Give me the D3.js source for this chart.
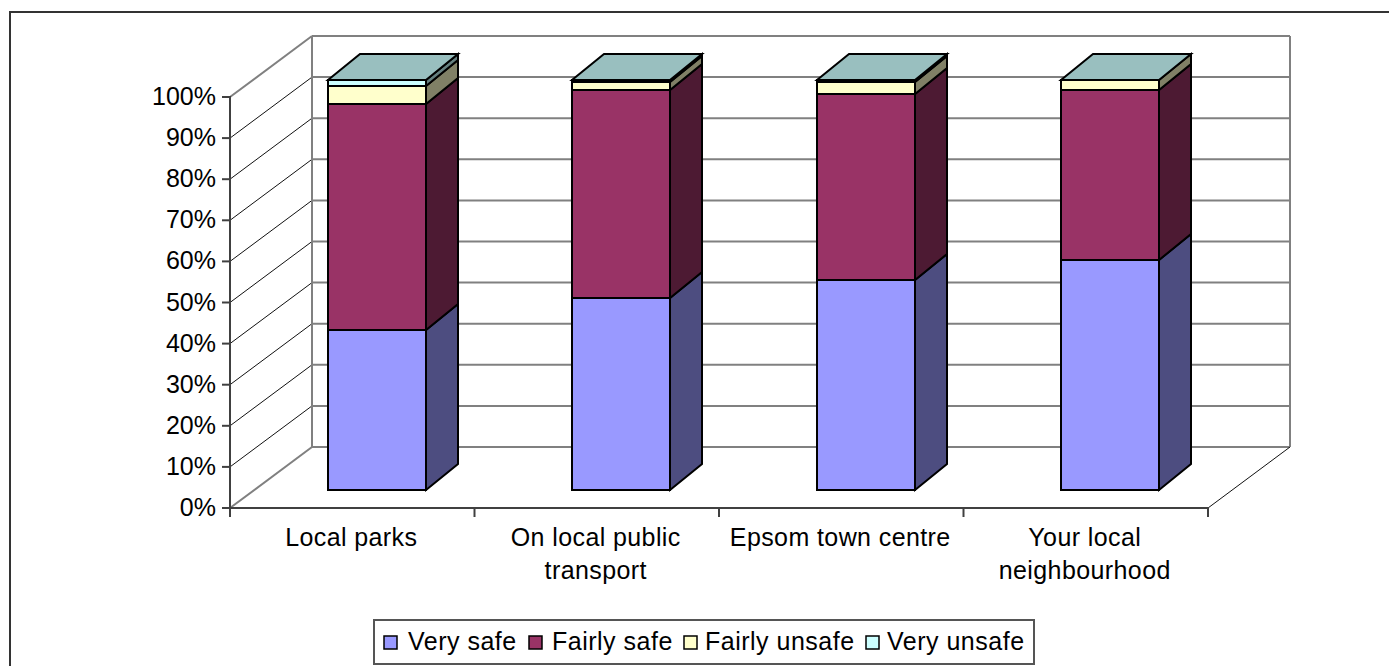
<!DOCTYPE html>
<html>
<head>
<meta charset="utf-8">
<script src="https://cdn.jsdelivr.net/npm/d3@7"></script>
<style>
  html, body { margin: 0; padding: 0; background: #fff; }
  svg { display: block; }
  text { font-family: "Liberation Sans", Arial, sans-serif; fill: #000; }
</style>
</head>
<body>
<div id="chart"></div>
<script>
var categories = ["Local parks", "On local public transport", "Epsom town centre", "Your local neighbourhood"];
var category_lines = [["Local parks"], ["On local public", "transport"], ["Epsom town centre"], ["Your local", "neighbourhood"]];
var series_names = ["Very safe", "Fairly safe", "Fairly unsafe", "Very unsafe"];
var very_safe     = [39.0, 46.8, 51.2, 56.0];
var fairly_safe   = [55.1, 50.8, 45.4, 41.5];
var fairly_unsafe = [4.4, 2.0, 2.9, 2.5];
var very_unsafe   = [1.5, 0.4, 0.5, 0.0];
var y_ticks = [0, 10, 20, 30, 40, 50, 60, 70, 80, 90, 100];

var front_colors = ["#9999ff", "#993366", "#ffffcc", "#ccffff"];
var side_colors  = ["#4d4d80", "#4d1a33", "#808066", "#668080"];
var top_color    = "#99bfbf";

var width  = 1389;
var height = 666;
var left   = 230;
var right  = 1208;
var y_zero = 508;
var y_full = 97;
// how far the back wall sits behind the front of the plot
var depth_x = 82;
var depth_y = -61;
// how far the bars sit behind the axis, and how deep they are
var bar_dx = 24.5;
var bar_depth_x = 32;
var bar_depth_y = -26;

var svg = d3.select("#chart").append("svg")
  .attr("width", width)
  .attr("height", height);

var x = d3.scaleBand()
  .domain(categories)
  .range([left, right])
  .paddingInner(0.6)
  .paddingOuter(0.3);
var y = d3.scaleLinear()
  .domain([0, 100])
  .range([y_zero, y_full]);
// bars stand on their own plane inside the box
var y_bar = d3.scaleLinear()
  .domain([0, 100])
  .range([490, 80]);

// outer frame, only the top and left edges are inside the picture
svg.append("path")
  .attr("d", "M10," + height + "V12H" + width)
  .attr("fill", "none")
  .attr("stroke", "#333")
  .attr("stroke-width", 2);

// back wall gridlines
var wall = svg.append("g");
y_ticks.forEach(function (t) {
  wall.append("line")
    .attr("x1", left + depth_x).attr("x2", right + depth_x)
    .attr("y1", y(t) + depth_y).attr("y2", y(t) + depth_y)
    .attr("stroke", "#808080")
    .attr("stroke-width", 2);
  var edge = t === 0 || t === 100;
  wall.append("line")
    .attr("x1", left).attr("x2", left + depth_x)
    .attr("y1", y(t)).attr("y2", y(t) + depth_y)
    .attr("stroke", edge ? "#808080" : "#111")
    .attr("stroke-width", edge ? 2 : 1);
});
[left + depth_x, right + depth_x].forEach(function (px) {
  wall.append("line")
    .attr("x1", px).attr("x2", px)
    .attr("y1", y(0) + depth_y).attr("y2", y(100) + depth_y)
    .attr("stroke", "#808080")
    .attr("stroke-width", 2);
});
wall.append("line")
  .attr("x1", right).attr("x2", right + depth_x)
  .attr("y1", y(0)).attr("y2", y(0) + depth_y)
  .attr("stroke", "#111")
  .attr("stroke-width", 1);

// axes
var y_axis = d3.axisLeft(y)
  .tickValues(y_ticks)
  .tickSize(8)
  .tickPadding(6)
  .offset(0)
  .tickFormat(function (d) { return d + "%"; });
var y_axis_g = svg.append("g")
  .attr("transform", "translate(" + left + ",0)")
  .call(y_axis);
y_axis_g.selectAll("text").style("font-size", "25px");

var step = x.step();
var x_ticks = d3.range(categories.length + 1).map(function (i) { return left + i*step; });
var x_tick_scale = d3.scaleLinear().domain([left, right]).range([left, right]);
var x_axis = d3.axisBottom(x_tick_scale)
  .tickValues(x_ticks)
  .tickSize(9)
  .offset(0)
  .tickFormat("");
svg.append("g")
  .attr("transform", "translate(0," + y_zero + ")")
  .call(x_axis);

svg.selectAll(".domain, .tick line")
  .attr("stroke", "#404040")
  .attr("stroke-width", 2);

// category labels
category_lines.forEach(function (lines, i) {
  var label = svg.append("text")
    .attr("text-anchor", "middle")
    .style("font-size", "25px")
    .style("letter-spacing", "0.4px");
  lines.forEach(function (line, j) {
    label.append("tspan")
      .attr("x", x(categories[i]) + x.bandwidth()/2 - 1)
      .attr("y", 546 + j*33)
      .text(line);
  });
});

// stacked bars
var all_series = [very_safe, fairly_safe, fairly_unsafe, very_unsafe];
var bars = svg.append("g")
  .attr("stroke", "#000")
  .attr("stroke-width", 2)
  .attr("stroke-linejoin", "miter");

function points (list) {
  return list.map(function (p) { return p.join(","); }).join(" ");
}

categories.forEach(function (cat, i) {
  var x0 = Math.round(x(cat) + bar_dx);
  var x1 = Math.round(x0 + x.bandwidth());
  var base = 0;
  all_series.forEach(function (values, s) {
    var v = values[i];
    if (v === 0) return;
    var y0 = Math.round(y_bar(base));
    var y1 = Math.round(y_bar(base + v));
    bars.append("rect")
      .attr("x", x0).attr("y", y1)
      .attr("width", x1 - x0).attr("height", y0 - y1)
      .attr("fill", front_colors[s]);
    bars.append("polygon")
      .attr("points", points([
        [x1, y0], [x1 + bar_depth_x, y0 + bar_depth_y],
        [x1 + bar_depth_x, y1 + bar_depth_y], [x1, y1]
      ]))
      .attr("fill", side_colors[s]);
    base += v;
  });
  // only the top of the stack shows its lid
  var top_y = Math.round(y_bar(base));
  bars.append("polygon")
    .attr("points", points([
      [x0, top_y], [x1, top_y],
      [x1 + bar_depth_x, top_y + bar_depth_y], [x0 + bar_depth_x, top_y + bar_depth_y]
    ]))
    .attr("fill", top_color);
});

// legend
var legend = svg.append("g");
legend.append("rect")
  .attr("x", 374).attr("y", 620)
  .attr("width", 660).attr("height", 44)
  .attr("fill", "#fff")
  .attr("stroke", "#555")
  .attr("stroke-width", 2);
var legend_box_x  = [384, 529, 684, 866];
var legend_text_x = [408, 552, 705, 887];
series_names.forEach(function (name, i) {
  legend.append("rect")
    .attr("x", legend_box_x[i]).attr("y", 636)
    .attr("width", 13).attr("height", 13)
    .attr("fill", front_colors[i])
    .attr("stroke", "#000")
    .attr("stroke-width", 1.5);
  legend.append("text")
    .attr("x", legend_text_x[i]).attr("y", 650)
    .style("font-size", "25px")
    .style("letter-spacing", "0.5px")
    .text(name);
});
</script>
</body>
</html>
